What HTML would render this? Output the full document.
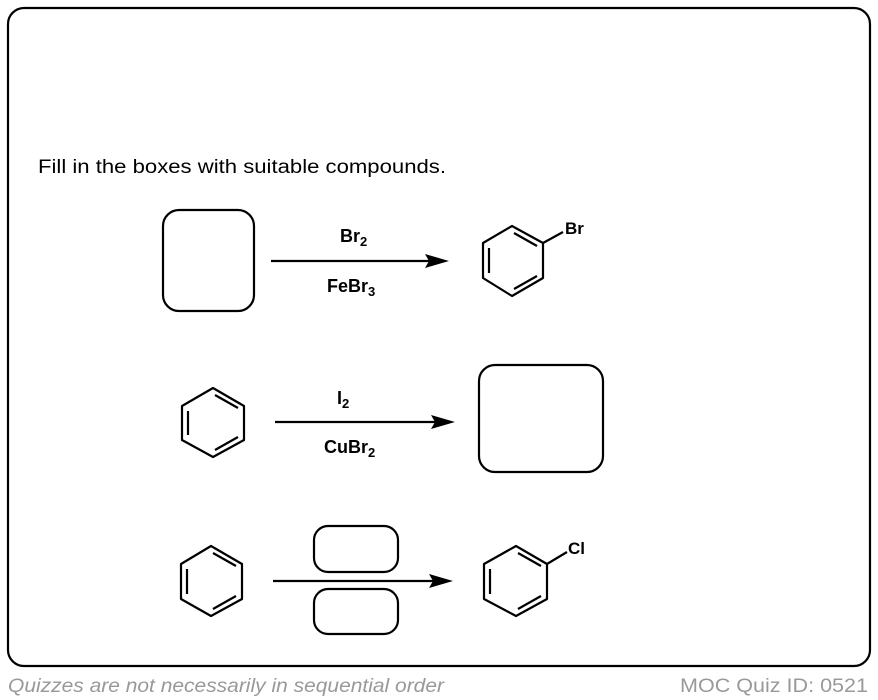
<!DOCTYPE html>
<html><head><meta charset="utf-8"><style>html,body{margin:0;padding:0;background:#fff;}svg{display:block}</style></head>
<body>
<svg width="878" height="700" viewBox="0 0 878 700" xmlns="http://www.w3.org/2000/svg" font-family="Liberation Sans, sans-serif">
<rect x="8" y="8" width="862" height="658" rx="16" fill="none" stroke="#000" stroke-width="2.2"/>
<text x="38" y="173" font-size="19" textLength="408" lengthAdjust="spacingAndGlyphs">Fill in the boxes with suitable compounds.</text>
<g fill="none" stroke="#000" stroke-width="2.2" stroke-linejoin="round">
<rect x="163" y="210" width="91" height="101" rx="16"/>
<rect x="479" y="365" width="124" height="107" rx="16"/>
<rect x="314" y="526" width="84" height="46" rx="14"/>
<rect x="314" y="589" width="84" height="45" rx="14"/>
<line x1="271" y1="261" x2="435" y2="261"/>
<line x1="275" y1="422" x2="441" y2="422"/>
<line x1="273" y1="581" x2="439" y2="581"/>
<polygon points="512,226 543,243 543,278 512,296 483,278 483,243"/>
<line x1="489" y1="248" x2="489" y2="273"/>
<line x1="514" y1="233" x2="537" y2="246"/>
<line x1="514" y1="289" x2="537" y2="276"/>
<line x1="543" y1="243" x2="563" y2="232"/>
<polygon points="213,388 244,406 244,440 213,457 182,440 182,406"/>
<line x1="188" y1="411" x2="188" y2="435"/>
<line x1="215" y1="395" x2="238" y2="408"/>
<line x1="215" y1="450" x2="238" y2="437"/>
<polygon points="211,546 242,564 242,599 211,616 181,599 181,564"/>
<line x1="187" y1="569" x2="187" y2="594"/>
<line x1="213" y1="553" x2="236" y2="566"/>
<line x1="213" y1="609" x2="236" y2="596"/>
<polygon points="516,546 547,564 547,599 516,616 484,599 484,564"/>
<line x1="490" y1="569" x2="490" y2="594"/>
<line x1="518" y1="553" x2="541" y2="566"/>
<line x1="518" y1="609" x2="541" y2="596"/>
<line x1="547" y1="564" x2="567" y2="552"/>
</g>
<g fill="#000">
<polygon points="449,261 425,254 429,261 425,268"/>
<polygon points="455,422 431,415 435,422 431,429"/>
<polygon points="453,581 429,574 433,581 429,588"/>
</g>
<g font-weight="bold" font-size="18">
<text x="340" y="242">Br<tspan font-size="13" dy="4">2</tspan></text>
<text x="327" y="292">FeBr<tspan font-size="13" dy="4">3</tspan></text>
<text x="565" y="234" font-size="17">Br</text>
<text x="337" y="404">I<tspan font-size="13" dy="4">2</tspan></text>
<text x="324" y="453">CuBr<tspan font-size="13" dy="4">2</tspan></text>
<text x="568" y="554" font-size="17">Cl</text>
</g>
<text x="8" y="692" font-size="19" font-style="italic" fill="#999" textLength="436" lengthAdjust="spacingAndGlyphs">Quizzes are not necessarily in sequential order</text>
<text x="680" y="692" font-size="19" fill="#999" textLength="188" lengthAdjust="spacingAndGlyphs">MOC Quiz ID: 0521</text>
</svg>
</body></html>
